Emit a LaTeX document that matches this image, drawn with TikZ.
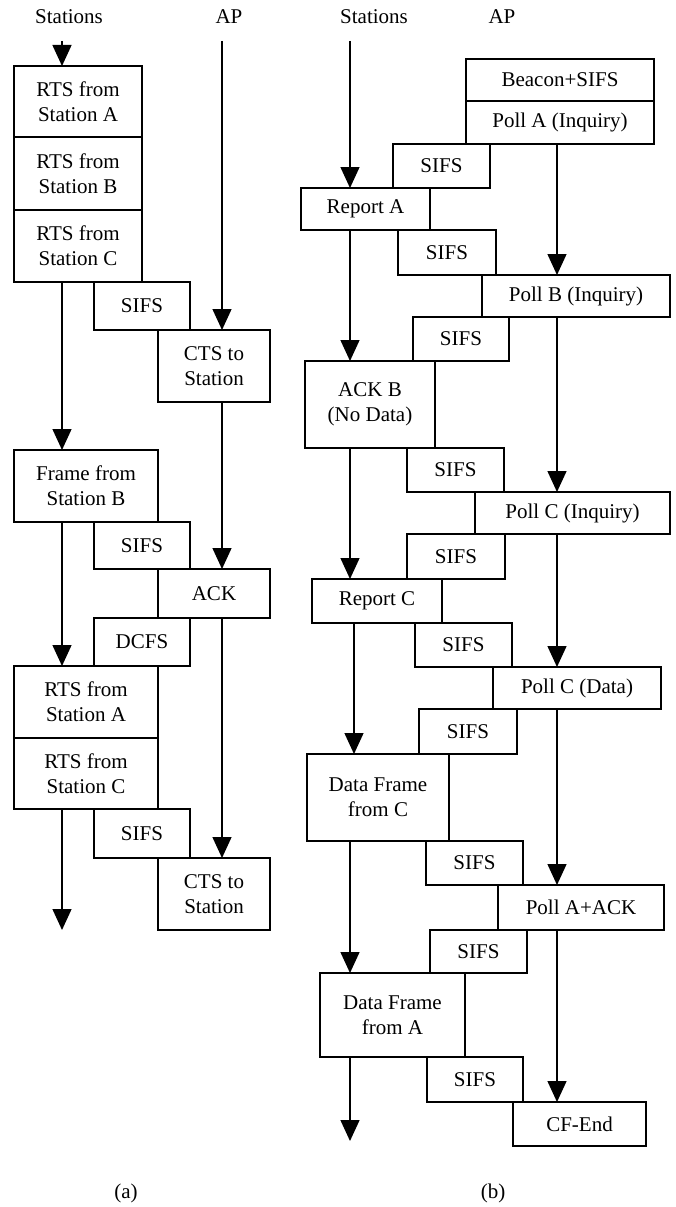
\documentclass[tikz,border=0pt]{standalone}
\usepackage{fontspec}
\setmainfont{Liberation Serif}
\usetikzlibrary{arrows.meta}

\tikzset{every picture/.style={line width=1.4pt}}
\tikzset{
	blk/.style={draw, align=center, inner sep=0pt, outer sep=0pt},
	arr/.style={-{Triangle[width=19pt,length=21pt]}}
}

\begin{document}
\begin{tikzpicture}[x=1pt,y=-1pt,font=\fontsize{21}{25}\selectfont]
		\useasboundingbox (0,0) rectangle (675,1207);

		% (a)
		\node (hsa) at (69,17) {Stations};
		\node (hapa) at (229,17) {AP};
		\coordinate (sa0) at (62,41);
		\coordinate (sa1) at (62,930);
		\coordinate (ap0) at (222,41);

		\node (rtsA) at (78,101.5) [blk, minimum width=128, minimum height=71] {RTS from\\Station A};
		\node (rtsB) at (78,173.5) [blk, minimum width=128, minimum height=73] {RTS from\\Station B};
		\node (rtsC) at (78,246) [blk, minimum width=128, minimum height=72] {RTS from\\Station C};
		\node (sifsA1) at (142,306) [blk, minimum width=96, minimum height=48] {SIFS};
		\node (cts1) at (214,366) [blk, minimum width=112, minimum height=72] {CTS to\\Station};
		\node (frmB) at (86,486) [blk, minimum width=144, minimum height=72] {Frame from\\Station B};
		\node (sifsA2) at (142,545.5) [blk, minimum width=96, minimum height=47] {SIFS};
		\node (ack) at (214,593.5) [blk, minimum width=112, minimum height=49] {ACK};
		\node (dcfs) at (142,642) [blk, minimum width=96, minimum height=48] {DCFS};
		\node (rtsA2) at (86,702) [blk, minimum width=144, minimum height=72] {RTS from\\Station A};
		\node (rtsC2) at (86,773.5) [blk, minimum width=144, minimum height=71] {RTS from\\Station C};
		\node (sifsA3) at (142,833.5) [blk, minimum width=96, minimum height=49] {SIFS};
		\node (cts2) at (214,894) [blk, minimum width=112, minimum height=72] {CTS to\\Station};

		\draw [arr] (sa0) -- (rtsA.north -| sa0);
		\draw [arr] (rtsC.south -| sa0) -- (frmB.north -| sa0);
		\draw [arr] (frmB.south -| sa0) -- (rtsA2.north -| sa0);
		\draw [arr] (rtsC2.south -| sa0) -- (sa1);
		\draw [arr] (ap0) -- (cts1.north -| ap0);
		\draw [arr] (cts1.south -| ap0) -- (ack.north -| ap0);
		\draw [arr] (ack.south -| ap0) -- (cts2.north -| ap0);

		\node (capa) at (126,1193) {(a)};

		% (b)
		\node (hsb) at (374,17) {Stations};
		\node (hapb) at (502,17) {AP};
		\coordinate (sb0) at (350,41);
		\coordinate (sb1) at (350,1141);
		\coordinate (sb2) at (354,0);
		\coordinate (apb) at (557,0);

		\node (beacon) at (560,80) [blk, minimum width=188, minimum height=42] {Beacon+SIFS};
		\node (pollA) at (560,122.5) [blk, minimum width=188, minimum height=43] {Poll A (Inquiry)};
		\node (sifsB1) at (441.5,166) [blk, minimum width=97, minimum height=44] {SIFS};
		\node (repA) at (365.5,209) [blk, minimum width=129, minimum height=42] {Report A};
		\node (sifsB2) at (447,252.5) [blk, minimum width=98, minimum height=45] {SIFS};
		\node (pollB) at (576,296) [blk, minimum width=188, minimum height=42] {Poll B (Inquiry)};
		\node (sifsB3) at (461,339) [blk, minimum width=96, minimum height=44] {SIFS};
		\node (ackB) at (370,404.5) [blk, minimum width=130, minimum height=87] {ACK B\\(No Data)};
		\node (sifsB4) at (455.5,470) [blk, minimum width=97, minimum height=44] {SIFS};
		\node (pollC) at (572.5,513) [blk, minimum width=195, minimum height=42] {Poll C (Inquiry)};
		\node (sifsB5) at (456,556.5) [blk, minimum width=98, minimum height=45] {SIFS};
		\node (repC) at (377,601) [blk, minimum width=130, minimum height=44] {Report C};
		\node (sifsB6) at (463.5,645) [blk, minimum width=97, minimum height=44] {SIFS};
		\node (pollCd) at (577,688) [blk, minimum width=168, minimum height=42] {Poll C (Data)};
		\node (sifsB7) at (468,731.5) [blk, minimum width=98, minimum height=45] {SIFS};
		\node (dfC) at (378,797.5) [blk, minimum width=142, minimum height=87] {Data Frame\\from C};
		\node (sifsB8) at (474.5,863) [blk, minimum width=97, minimum height=44] {SIFS};
		\node (pollAk) at (581,907.5) [blk, minimum width=166, minimum height=45] {Poll A+ACK};
		\node (sifsB9) at (478.5,951.5) [blk, minimum width=97, minimum height=43] {SIFS};
		\node (dfA) at (392.5,1015) [blk, minimum width=145, minimum height=84] {Data Frame\\from A};
		\node (sifsB10) at (475,1079.5) [blk, minimum width=96, minimum height=45] {SIFS};
		\node (cfEnd) at (579.5,1124) [blk, minimum width=133, minimum height=44] {CF-End};

		\draw [arr] (sb0) -- (repA.north -| sb0);
		\draw [arr] (repA.south -| sb0) -- (ackB.north -| sb0);
		\draw [arr] (ackB.south -| sb0) -- (repC.north -| sb0);
		\draw [arr] (repC.south -| sb2) -- (dfC.north -| sb2);
		\draw [arr] (dfC.south -| sb0) -- (dfA.north -| sb0);
		\draw [arr] (dfA.south -| sb0) -- (sb1);
		\draw [arr] (pollA.south -| apb) -- (pollB.north -| apb);
		\draw [arr] (pollB.south -| apb) -- (pollC.north -| apb);
		\draw [arr] (pollC.south -| apb) -- (pollCd.north -| apb);
		\draw [arr] (pollCd.south -| apb) -- (pollAk.north -| apb);
		\draw [arr] (pollAk.south -| apb) -- (cfEnd.north -| apb);

		\node (capb) at (493,1193) {(b)};
\end{tikzpicture}
\end{document}
